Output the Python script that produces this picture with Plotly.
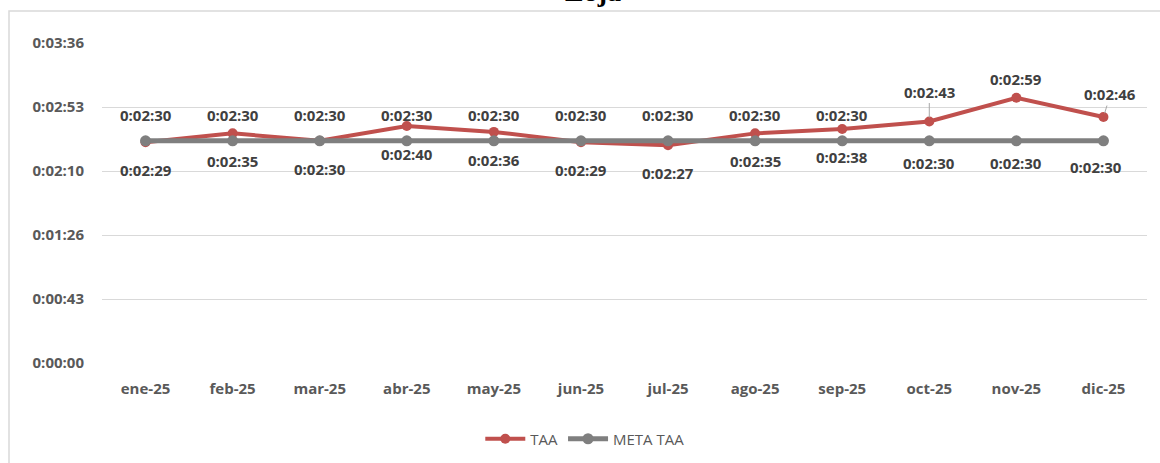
import plotly.graph_objects as go

# ---------------- data ----------------
months = ["ene-25", "feb-25", "mar-25", "abr-25", "may-25", "jun-25",
          "jul-25", "ago-25", "sep-25", "oct-25", "nov-25", "dic-25"]
taa_seconds = [149, 155, 150, 160, 156, 149, 147, 155, 158, 163, 179, 166]
meta_seconds = [150, 150, 150, 150, 150, 150, 150, 150, 150, 150, 150, 150]
ytick_vals = [0, 43.2, 86.4, 129.6, 172.8, 216]
ytick_text = ["0:00:00", "0:00:43", "0:01:26", "0:02:10", "0:02:53", "0:03:36"]
title_text = "Loja"

# ---------------- label placement (style) ----------------
taa_label_offsets = [(0, -28)] * 9 + [(0, 30), (0, 19), (7, 23)]
taa_leader = [False] * 9 + [True, False, True]
meta_label_offsets = [(0, 26)] * 9 + [(0, -22), (0, -22), (-7, -26)]


def fmt(s):
    s = int(round(s))
    return f"0:{s // 60:02d}:{s % 60:02d}"


RED = "#C0504D"
GRAY = "#7F7F7F"
LABEL_COLOR = "#404040"
TICK_COLOR = "#595959"
FONT = "Open Sans"

fig = go.Figure()
fig.add_trace(go.Scatter(
    x=months, y=taa_seconds, name="TAA", mode="lines+markers",
    line=dict(color=RED, width=4), marker=dict(color=RED, size=10),
    cliponaxis=False, hoverinfo="skip",
))
fig.add_trace(go.Scatter(
    x=months, y=meta_seconds, name="META TAA", mode="lines+markers",
    line=dict(color=GRAY, width=5), marker=dict(color=GRAY, size=11),
    cliponaxis=False, hoverinfo="skip",
))

annotations = []
label_font = dict(family=FONT, size=15, color=LABEL_COLOR, weight="bold")
for i, m in enumerate(months):
    dx, dy = taa_label_offsets[i]
    if taa_leader[i]:
        annotations.append(dict(
            x=m, y=taa_seconds[i], xref="x", yref="y", text=fmt(taa_seconds[i]),
            showarrow=True, arrowhead=0, arrowwidth=1, arrowcolor="#A6A6A6",
            ax=dx, ay=-dy, standoff=4, font=label_font,
        ))
    else:
        annotations.append(dict(
            x=m, y=taa_seconds[i], xref="x", yref="y", text=fmt(taa_seconds[i]),
            showarrow=False, xshift=dx, yshift=dy, font=label_font,
        ))
    dx, dy = meta_label_offsets[i]
    annotations.append(dict(
        x=m, y=meta_seconds[i], xref="x", yref="y", text=fmt(meta_seconds[i]),
        showarrow=False, xshift=dx, yshift=dy, font=label_font,
    ))

# title (partly cut off at the top, as in the reference)
annotations.append(dict(
    x=0.47, y=1.162, xref="paper", yref="paper", text=f"<b>{title_text}</b>",
    showarrow=False, xanchor="center", yanchor="middle",
    font=dict(family="Liberation Serif", size=28, color="#000000"),
))

fig.update_layout(
    width=1160, height=463,
    margin=dict(l=102, r=13, t=43, b=100, autoexpand=False),
    paper_bgcolor="white", plot_bgcolor="white",
    showlegend=True,
    legend=dict(orientation="h", x=0.462, xanchor="center", y=-0.2375, yanchor="middle",
                font=dict(family=FONT, size=15, color=TICK_COLOR),
                itemwidth=40, tracegroupgap=0),
    annotations=annotations,
    shapes=[dict(type="rect", xref="paper", yref="paper",
                 x0=-0.089, x1=1.08, y0=-0.4, y1=1.1,
                 line=dict(color="#D9D9D9", width=1.5), layer="below")],
    font=dict(family=FONT),
    hovermode=False,
)

fig.update_xaxes(
    type="category", range=[-0.5, len(months) - 0.5],
    showgrid=False, showline=False, zeroline=False, automargin=False,
    tickfont=dict(family=FONT, size=15, color=TICK_COLOR, weight="bold"),
    ticklabelstandoff=15,
)
fig.update_yaxes(
    range=[0, 216], tickmode="array", tickvals=ytick_vals, ticktext=ytick_text,
    showgrid=True, gridcolor="#D9D9D9", gridwidth=1, zeroline=False, showline=False,
    automargin=False,
    tickfont=dict(family=FONT, size=15, color=TICK_COLOR, weight="bold"),
    ticklabelstandoff=17,
)

fig.write_html(
    "out.html",
    config={"displayModeBar": False, "staticPlot": True},
    post_script="document.body.style.margin='0';document.body.style.overflow='hidden';",
)
